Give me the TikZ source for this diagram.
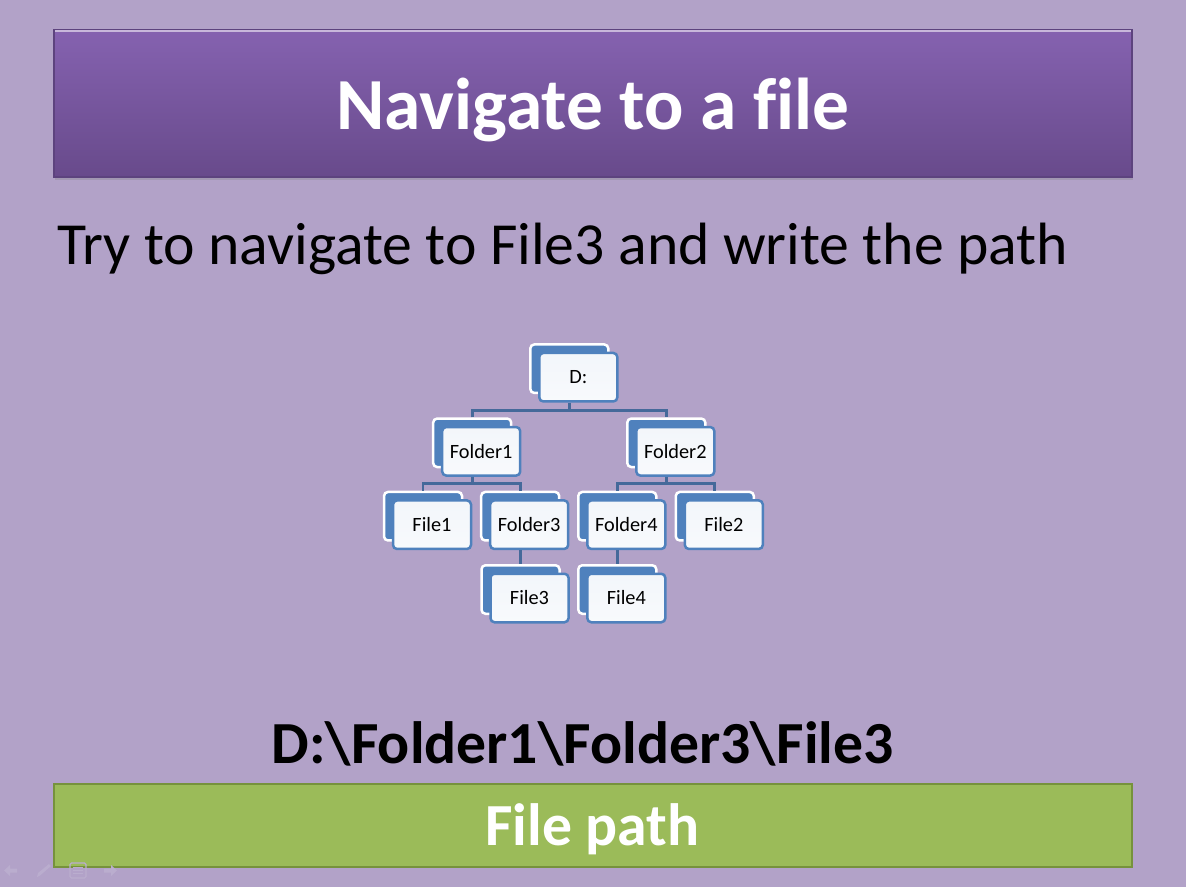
\documentclass[tikz,border=0pt]{standalone}
\usepackage{fontspec}
\setmainfont{Carlito}[Ligatures={NoCommon}]
\usetikzlibrary{calc,shadows}
\definecolor{bgc}{HTML}{B2A2C8}
\definecolor{titletop}{HTML}{8562B0}
\definecolor{titlebot}{HTML}{684A8B}
\definecolor{titleedge}{HTML}{5D437E}
\definecolor{nodeblue}{HTML}{4F81BD}
\definecolor{connblue}{HTML}{45699A}
\definecolor{greenfill}{HTML}{9BBB59}
\definecolor{greenedge}{HTML}{76923C}
\definecolor{navicon}{HTML}{BAADCE}
\tikzset{
  tback/.style={rectangle, draw=white, line width=2.5pt, fill=nodeblue, rounded corners=4pt,
    minimum width=78pt, minimum height=48.5pt, inner sep=0pt},
  tfront/.style={rectangle, draw=nodeblue, line width=2.5pt, top color=white!88!nodeblue!60, bottom color=white!96!nodeblue,
    rounded corners=4pt, minimum width=78pt, minimum height=48.5pt, inner sep=0pt,
    text=black, font=\fontsize{20.3}{24}\selectfont},
  conn/.style={draw=connblue, line width=2.7pt},
  navstyle/.style={fill=navicon, draw=none}
}
\newcommand{\treenode}[4]{%
  \node[tback] (#1-b) at ($(#2,#3)+(-9,-8.5)$) {};
  \node[tfront] (#1) at (#2,#3) {#4};
}
\begin{document}
\begin{tikzpicture}[x=1pt,y=-1pt]
\fill[bgc] (0,0) rectangle (1186,887);
\useasboundingbox (0,0) rectangle (1186,887);

% title
\node[rectangle, minimum width=1078pt, minimum height=147pt, inner sep=0pt,
  top color=titletop, bottom color=titlebot, draw=titleedge, line width=1.2pt,
  drop shadow={shadow xshift=1pt, shadow yshift=-3pt, opacity=.3}] (titlebox) at (593,103.5) {};
\draw[color=white!55!titletop, line width=2pt] ($(titlebox.north west)+(2,2)$) -- ($(titlebox.north east)+(-2,2)$);
\node[anchor=base, text=white, font=\fontsize{73.4}{80}\selectfont\bfseries, inner sep=0pt] (titletext) at (593,129) {Navigate to a file};

% subtitle
\node[anchor=base west, text=black, font=\fontsize{59.7}{64}\selectfont, inner sep=0pt] (subtitle) at (57,264.3) {Try to navigate to File3 and write the path};

% tree
\treenode{D}{578.3}{377.2}{D:}
\treenode{F1}{481.2}{451.3}{Folder1}
\treenode{F2}{675.3}{451.3}{Folder2}
\treenode{Fi1}{432}{524.7}{File1}
\treenode{F3}{529.2}{524.7}{Folder3}
\treenode{F4}{626.3}{524.7}{Folder4}
\treenode{Fi2}{723.8}{524.7}{File2}
\treenode{Fi3}{529.5}{598}{File3}
\treenode{Fi4}{626.3}{598}{File4}

\draw[conn] (D-b.center |- D.south) -- ++(0,7.5) coordinate (busD);
\draw[conn] (F1-b.north) |- (busD) -| (F2-b.north);
\draw[conn] (F1-b.center |- F1.south) -- ++(0,7) coordinate (busF1);
\draw[conn] (Fi1-b.north) |- (busF1) -| (F3-b.north);
\draw[conn] (F2-b.center |- F2.south) -- ++(0,7) coordinate (busF2);
\draw[conn] (F4-b.north) |- (busF2) -| (Fi2-b.north);
\draw[conn] (F3-b.center |- F3.south) -- (F3-b.center |- Fi3-b.north);
\draw[conn] (F4-b.center |- F4.south) -- (F4-b.center |- Fi4-b.north);

% path
\node[anchor=base, text=black, font=\fontsize{59.7}{64}\selectfont\bfseries, inner sep=0pt] (pathtext) at (582.5,763) {D:\textbackslash Folder1\textbackslash Folder3\textbackslash File3};

% green box
\node[rectangle, minimum width=1078pt, minimum height=83pt, inner sep=0pt, fill=greenfill, draw=greenedge, line width=2.6pt] (greenbox) at (593,825.5) {};
\node[anchor=base, text=white, font=\fontsize{59.7}{64}\selectfont\bfseries, inner sep=0pt] (greentext) at (592.5,845) {File path};

% faint slide-show navigation icons
\fill[navstyle] (4,870.5) -- (10,865) -- (10,868.5) -- (17,868.5) -- (17,872.5) -- (10,872.5) -- (10,876) -- cycle;
\fill[navstyle] (37,877) -- (38,873) -- (49,864) -- (51,866) -- (40,875.5) -- cycle;
\draw[navicon, line width=1.2pt, rounded corners=1.5pt] (70,863) rectangle (86,878);
\draw[navicon, line width=1.2pt] (73,867.5) -- (83,867.5) (73,870.5) -- (83,870.5) (73,873.5) -- (83,873.5);
\fill[navstyle] (117,870.5) -- (111,865) -- (111,868.5) -- (104,868.5) -- (104,872.5) -- (111,872.5) -- (111,876) -- cycle;
\end{tikzpicture}
\end{document}
